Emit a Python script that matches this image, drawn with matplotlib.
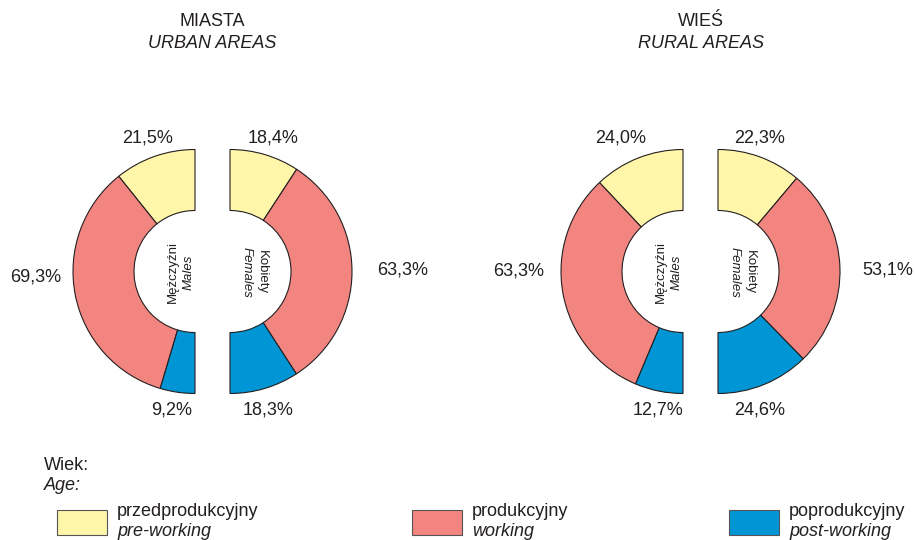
import matplotlib.pyplot as plt

# shares of age groups (%)
groups = ["pre-working", "working", "post-working"]
urban_males = [21.5, 69.3, 9.2]
urban_females = [18.4, 63.3, 18.3]
rural_males = [24.0, 63.3, 12.7]
rural_females = [22.3, 53.1, 24.6]

colors = ["#FFF6AA", "#F2857F", "#0096D6"]
H = 540


def half_donut(ax, values, cx, counterclock):
    """Draws one half of a split donut (the other half is hidden)"""
    wedges, _ = ax.pie(values + [sum(values)], colors=colors + ["white"],
                       startangle=90, counterclock=counterclock,
                       center=(cx, H - 271.5), radius=122, frame=True,
                       wedgeprops=dict(width=61, edgecolor="#231F20",
                                       linewidth=0.8))
    wedges[-1].set_visible(False)


def fmt(v):
    return f"{v:.1f}%".replace(".", ",")


def main():
    plt.rcParams['font.family'] = ['Liberation Sans', 'DejaVu Sans']
    fig = plt.figure(figsize=(9.15, 5.4), dpi=100)
    ax = fig.add_axes([0, 0, 1, 1])
    tc = "#231F20"
    fs = 13
    fi = 9.5

    panels = [
        (urban_males, urban_females, 195, "MIASTA", "URBAN AREAS",
         [(148, 138), (36, 277), (172, 410)],
         [(273, 138), (403, 270), (268, 410)]),
        (rural_males, rural_females, 683, "WIEŚ", "RURAL AREAS",
         [(621, 138), (519, 271), (658, 410)],
         [(760, 138), (888, 270), (760, 410)]),
    ]
    for males, females, mx, t1, t2, mpos, fpos in panels:
        half_donut(ax, males, mx, True)
        half_donut(ax, females, mx + 35, False)
        mid = mx + 17.5
        ax.text(mid, H - 21, t1, ha="center", va="center", fontsize=fs,
                color=tc)
        ax.text(mid, H - 43, t2, ha="center", va="center", fontsize=fs,
                color=tc, style="italic")
        for v, (x, y) in zip(males, mpos):
            ax.text(x, H - y, fmt(v), ha="center", va="center",
                    fontsize=fs, color=tc)
        for v, (x, y) in zip(females, fpos):
            ax.text(x, H - y, fmt(v), ha="center", va="center",
                    fontsize=fs, color=tc)
        ax.text(mx - 22, H - 272, "Mężczyźni", rotation=90, ha="center",
                va="center", fontsize=fi, color=tc)
        ax.text(mx - 6, H - 272, "Males", rotation=90, ha="center",
                va="center", fontsize=fi, color=tc, style="italic")
        ax.text(mx + 52, H - 272, "Females", rotation=-90, ha="center",
                va="center", fontsize=fi, color=tc, style="italic")
        ax.text(mx + 67, H - 272, "Kobiety", rotation=-90, ha="center",
                va="center", fontsize=fi, color=tc)

    # legend
    ax.text(44, H - 465, "Wiek:", ha="left", va="center", fontsize=fs,
            color=tc)
    ax.text(44, H - 486, "Age:", ha="left", va="center", fontsize=fs,
            color=tc, style="italic")
    pl = ["przedprodukcyjny", "produkcyjny", "poprodukcyjny"]
    for x, c, p, e in zip([57, 412, 729], colors, pl, groups):
        ax.add_patch(plt.Rectangle((x, H - 535), 50, 25, facecolor=c,
                                   edgecolor="#555555", linewidth=0.8))
        ax.text(x + 60, H - 511, p, ha="left", va="center", fontsize=fs,
                color=tc)
        ax.text(x + 60, H - 531, e, ha="left", va="center", fontsize=fs,
                color=tc, style="italic")

    ax.set_xlim(0, 915)
    ax.set_ylim(0, H)
    ax.set_aspect("equal")
    ax.axis("off")
    fig.savefig("out.png", dpi=100)


if __name__ == "__main__":
    main()
